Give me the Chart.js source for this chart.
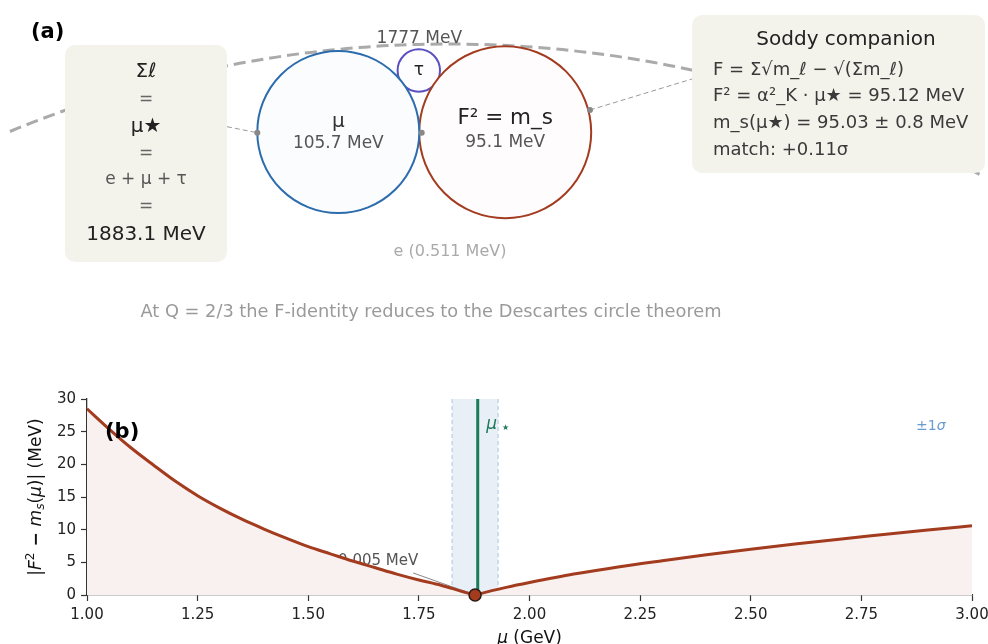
<!DOCTYPE html>
<html><head><meta charset="utf-8">
<script src="https://cdn.jsdelivr.net/npm/chart.js@4.4.1/dist/chart.umd.min.js"></script>
<style>
html,body{margin:0;padding:0;background:#fff;width:988px;height:644px;overflow:hidden}
#c1{position:absolute;left:0;top:0}
#c2{position:absolute;left:0;top:345px}
</style></head><body>
<canvas id="c1" width="988" height="345"></canvas>
<canvas id="c2" width="988" height="299"></canvas>
<script>
// ================= DATA =================
// Panel (b): |F^2 - m_s(mu)| vs mu
const muGeV  = [1.00,1.05,1.10,1.15,1.20,1.25,1.30,1.35,1.40,1.45,1.50,1.55,1.60,1.65,1.70,1.75,1.80,1.85,1.877,1.90,1.95,2.00,2.10,2.20,2.30,2.40,2.50,2.60,2.70,2.80,2.90,3.00];
const devMeV = [28.5,25.4,22.5,19.9,17.4,15.2,13.3,11.6,10.1,8.7,7.4,6.3,5.2,4.2,3.2,2.3,1.5,0.5,0.005,0.4,1.2,1.9,3.2,4.3,5.25,6.15,7.0,7.8,8.55,9.25,9.95,10.6];
const muStar = 1.883;
const sigmaLo = 1.825;
const sigmaHi = 1.929;
const xTickValues = [1.00,1.25,1.50,1.75,2.00,2.25,2.50,2.75,3.00];
const yTickValues = [0,5,10,15,20,25,30];
const minLabel = '0.005 MeV';

// Panel (a): diagram texts
const circleNames  = ['μ', 'F² = m_s', 'τ'];
const circleValues = ['105.7 MeV', '95.1 MeV', ''];
const sumLines     = ['Σℓ', '=', 'μ★', '=', 'e + μ + τ', '=', '1883.1 MeV'];
const soddyTitle   = 'Soddy companion';
const soddyLines   = ['F = Σ√m_ℓ − √(Σm_ℓ)', 'F² = α²_K · μ★ = 95.12 MeV', 'm_s(μ★) = 95.03 ± 0.8 MeV', 'match: +0.11σ'];
const tauMassLabel = '1777 MeV';
const electronLabel = 'e (0.511 MeV)';
const captionText  = 'At Q = 2/3 the F-identity reduces to the Descartes circle theorem';

// Panel (a): diagram geometry (page units)
const circleX = [338.3, 505.2, 418.8];
const circleY = [132, 132.2, 70.5];
const circleR = [81, 86, 21.2];
const outerArc = {x: 449, y: 1189, r: 1145, xFrom: 10, xTo: 984};
const dotsX = [257.3, 421.7, 590];
const dotsY = [132.7, 132.7, 110];

// ================= STYLE =================
Chart.defaults.font.family = "'DejaVu Sans', sans-serif";
Chart.defaults.animation = false;
const FONT = "'DejaVu Sans', sans-serif";
const circleStroke = ['#2c6cad', '#a33b1f', '#5a4fbf'];
const circleFill   = ['#fbfcfe', '#fefcfc', '#fdfdff'];

// ================= PANEL (a) =================
const diagramPlugin = {
  id: 'diagram',
  beforeDatasetsDraw(chart) {
    const {ctx, scales: {x, y}} = chart;
    const X = v => x.getPixelForValue(v), Y = v => y.getPixelForValue(v);
    const k = X(1) - X(0);
    ctx.save();
    // outer Descartes arc
    const a0 = Math.PI + Math.acos((outerArc.x - outerArc.xFrom) / outerArc.r);
    const a1 = 2 * Math.PI - Math.acos((outerArc.xTo - outerArc.x) / outerArc.r);
    ctx.strokeStyle = '#aaaaaa'; ctx.lineWidth = 3; ctx.setLineDash([12, 6]);
    ctx.beginPath(); ctx.arc(X(outerArc.x), Y(outerArc.y), outerArc.r * k, a0, a1); ctx.stroke();
    // connectors
    ctx.lineWidth = 1; ctx.setLineDash([5, 3]); ctx.strokeStyle = '#9a9a9a';
    [[227, 126.7, dotsX[0], dotsY[0]], [dotsX[2], dotsY[2], 692, 79]].forEach(c => {
      ctx.beginPath(); ctx.moveTo(X(c[0]), Y(c[1])); ctx.lineTo(X(c[2]), Y(c[3])); ctx.stroke();
    });
    ctx.setLineDash([]);
    // boxes
    ctx.fillStyle = '#f3f2eb';
    [[65, 45, 227, 262], [692, 15, 985, 173]].forEach(b => {
      ctx.beginPath(); ctx.roundRect(X(b[0]), Y(b[1]), X(b[2]) - X(b[0]), Y(b[3]) - Y(b[1]), 10); ctx.fill();
    });
    ctx.restore();
  },
  afterDatasetsDraw(chart) {
    const {ctx, scales: {x, y}} = chart;
    const X = v => x.getPixelForValue(v), Y = v => y.getPixelForValue(v);
    ctx.save();
    ctx.textBaseline = 'middle';
    const txt = (s, px, py, font, color, align) => {
      ctx.font = font; ctx.fillStyle = color; ctx.textAlign = align || 'center';
      ctx.fillText(s, X(px), Y(py));
    };
    // (a)
    txt('(a)', 31, 32.5, 'bold 21px ' + FONT, '#000', 'left');
    // left box
    const sumY = [71.7, 100, 126.7, 153.3, 180, 206.7, 234.3];
    const sumFont = ['20px', '17px', '20px', '17px', '17px', '17px', '20px'];
    const sumCol = ['#222', '#666', '#222', '#666', '#555', '#666', '#222'];
    sumLines.forEach((s, i) => txt(s, 146, sumY[i], sumFont[i] + ' ' + FONT, sumCol[i]));
    // circles
    txt(circleNames[0], circleX[0], 121.5, '20px ' + FONT, '#333');
    txt(circleValues[0], circleX[0], 144, '17px ' + FONT, '#555');
    txt(circleNames[1], circleX[1], 118.3, '21.5px ' + FONT, '#222');
    txt(circleValues[1], circleX[1], 143, '17px ' + FONT, '#555');
    txt(circleNames[2], circleX[2], 70.5, '17px ' + FONT, '#222');
    txt(tauMassLabel, 419.3, 38.5, '17px ' + FONT, '#555');
    txt(electronLabel, 450, 252, '16px ' + FONT, '#aaaaaa');
    // Soddy box
    txt(soddyTitle, 846, 40, '20px ' + FONT, '#222');
    const sy = [70.7, 96.7, 123.3, 150];
    soddyLines.forEach((s, i) => txt(s, 713, sy[i], '18px ' + FONT, '#3a3a3a', 'left'));
    // caption
    txt(captionText, 431, 312, '17.8px ' + FONT, '#9a9a9a');
    ctx.restore();
  }
};

new Chart(document.getElementById('c1'), {
  type: 'bubble',
  data: {
    datasets: [
      {type: 'scatter', data: dotsX.map((v, i) => ({x: v, y: dotsY[i]})), pointRadius: 3, backgroundColor: '#888', borderWidth: 0},
      ...circleX.map((cx, i) => ({
        data: [{x: cx, y: circleY[i], r: circleR[i]}],
        backgroundColor: circleFill[i], borderColor: circleStroke[i], borderWidth: 2
      }))
    ]
  },
  options: {
    responsive: false, events: [],
    layout: {padding: 0, autoPadding: false},
    plugins: {legend: {display: false}, tooltip: {enabled: false}},
    scales: {
      x: {type: 'linear', min: 0, max: 988, display: false},
      y: {type: 'linear', min: 0, max: 345, reverse: true, display: false}
    }
  },
  plugins: [diagramPlugin]
});

// ================= PANEL (b) =================
const iMin = devMeV.indexOf(Math.min(...devMeV));
const muMin = muGeV[iMin], minDev = devMeV[iMin];
const leftBranch = muGeV.slice(0, iMin + 1).map((m, i) => ({x: m, y: devMeV[i]}));
const rightBranch = muGeV.slice(iMin).map((m, i) => ({x: m, y: devMeV[iMin + i]}));
const CURVE = '#a33b1f';

function drawRich(ctx, pieces) {
  let w = 0;
  pieces.forEach(p => { ctx.font = p.f; p.w = ctx.measureText(p.t).width; w += p.w; });
  let cx = -w / 2;
  pieces.forEach(p => { ctx.font = p.f; ctx.fillText(p.t, cx, p.dy || 0); cx += p.w; });
}
function drawRichAt(ctx, pieces, px, py, rot) {
  ctx.save(); ctx.translate(px, py); ctx.rotate(rot); ctx.textAlign = 'left';
  drawRich(ctx, pieces); ctx.restore();
}

const panelB = {
  id: 'panelB',
  beforeDraw(chart) {
    const {ctx, chartArea: a, scales: {x, y}} = chart;
    ctx.save();
    const x0 = x.getPixelForValue(sigmaLo), x1 = x.getPixelForValue(sigmaHi);
    ctx.fillStyle = '#e9eff7';
    ctx.fillRect(x0, a.top, x1 - x0, a.bottom - a.top);
    ctx.strokeStyle = '#b7cde5'; ctx.lineWidth = 1.2; ctx.setLineDash([4, 3]);
    [x0, x1].forEach(xx => { ctx.beginPath(); ctx.moveTo(xx, a.top); ctx.lineTo(xx, a.bottom); ctx.stroke(); });
    ctx.setLineDash([]);
    // annotation
    ctx.font = '15px ' + FONT; ctx.fillStyle = '#555'; ctx.textAlign = 'center'; ctx.textBaseline = 'middle';
    ctx.fillText(minLabel, x.getPixelForValue(1.658), y.getPixelForValue(5.2));
    const ax0 = x.getPixelForValue(1.737), ay0 = y.getPixelForValue(3.37);
    const ax1 = x.getPixelForValue(muMin - 0.01), ay1 = y.getPixelForValue(0.25);
    ctx.strokeStyle = '#888'; ctx.lineWidth = 1;
    ctx.beginPath(); ctx.moveTo(ax0, ay0); ctx.lineTo(ax1, ay1); ctx.stroke();
    ctx.restore();
  },
  afterDraw(chart) {
    const {ctx, chartArea: a, scales: {x, y}} = chart;
    ctx.save();
    ctx.textBaseline = 'middle'; ctx.textAlign = 'left';
    ctx.fillStyle = '#000'; ctx.font = 'bold 21px ' + FONT;
    ctx.fillText('(b)', 105, y.getPixelForValue(24.9));
    // mu star label
    ctx.fillStyle = '#1b7a5a'; ctx.font = 'italic 17px ' + FONT;
    const lx = x.getPixelForValue(1.902), ly = y.getPixelForValue(26.1);
    ctx.fillText('μ', lx, ly);
    const mw = ctx.measureText('μ').width;
    ctx.font = '8px ' + FONT;
    ctx.fillText('★', lx + mw + 5, ly + 3);
    // ±1σ
    ctx.fillStyle = '#6b9bd0';
    drawRichAt(ctx, [{t: '±1', f: '14px ' + FONT}, {t: 'σ', f: 'italic 14px ' + FONT}], x.getPixelForValue(2.907), y.getPixelForValue(25.8), 0);
    // axis titles
    ctx.fillStyle = '#111'; ctx.textBaseline = 'alphabetic';
    const F = '17px ' + FONT, FI = 'italic 17px ' + FONT, FS = '12px ' + FONT, FSI = 'italic 12px ' + FONT;
    drawRichAt(ctx, [{t: 'μ', f: FI}, {t: ' (GeV)', f: F}], (a.left + a.right) / 2, 298, 0);
    drawRichAt(ctx, [
      {t: '|', f: F}, {t: 'F', f: FI}, {t: '2', f: FS, dy: -7}, {t: ' − ', f: 'bold 17px ' + FONT},
      {t: 'm', f: FI}, {t: 's', f: FSI, dy: 3}, {t: '(', f: F}, {t: 'μ', f: FI}, {t: ')|', f: F}, {t: ' (MeV)', f: F}
    ], 41, 152, -Math.PI / 2);
    ctx.restore();
  }
};

const axisCommon = {
  grid: {display: true, drawOnChartArea: false, drawTicks: true, tickLength: 6, tickColor: '#333', tickWidth: 1.2},
  border: {display: true, color: '#333', width: 1.3}
};

new Chart(document.getElementById('c2'), {
  type: 'line',
  data: {
    datasets: [
      {type: 'scatter', data: [{x: muMin, y: minDev}], pointRadius: 6, backgroundColor: CURVE, borderColor: '#2a1a12', borderWidth: 1.5, clip: false},
      {data: [{x: muStar, y: 0}, {x: muStar, y: 30}], borderColor: '#1b7a5a', borderWidth: 3, pointRadius: 0, fill: false},
      {data: leftBranch, borderColor: CURVE, borderWidth: 3, pointRadius: 0, fill: 'origin', backgroundColor: '#f8f1ef', cubicInterpolationMode: 'monotone'},
      {data: rightBranch, borderColor: CURVE, borderWidth: 3, pointRadius: 0, fill: 'origin', backgroundColor: '#f8f1ef', cubicInterpolationMode: 'monotone'}
    ]
  },
  options: {
    responsive: false, events: [],
    layout: {padding: {top: 54, right: 16, left: 0, bottom: 0}},
    plugins: {legend: {display: false}, tooltip: {enabled: false}},
    scales: {
      x: Object.assign({}, axisCommon, {
        type: 'linear', min: 1, max: 3,
        afterBuildTicks: s => { s.ticks = xTickValues.map(v => ({value: v})); },
        ticks: {callback: v => Number(v).toFixed(2), font: {size: 15}, color: '#222', padding: 5, maxRotation: 0, autoSkip: false},
        afterFit: s => { s.height = 49; s.paddingRight = 0; s.paddingLeft = 0; }
      }),
      y: Object.assign({}, axisCommon, {
        type: 'linear', min: 0, max: 30,
        afterBuildTicks: s => { s.ticks = yTickValues.map(v => ({value: v})); },
        ticks: {font: {size: 15}, color: '#222', padding: 5, autoSkip: false},
        afterFit: s => { s.width = 87; s.paddingTop = 0; s.paddingBottom = 0; }
      })
    }
  },
  plugins: [panelB]
});
</script>
</body></html>
